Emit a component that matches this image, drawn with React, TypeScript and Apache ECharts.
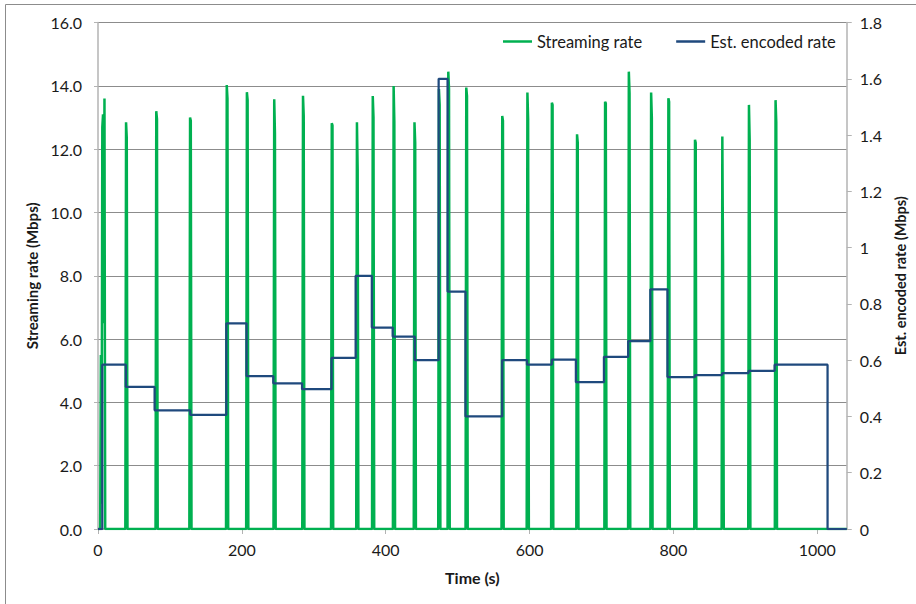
import React, { useEffect, useRef } from "react";
import * as echarts from "echarts";

// Streaming rate samples (time in s, rate in Mbps) – ON/OFF bursts
const streamTimes = [
  0, 3, 4, 5, 6, 7, 8, 9, 10,
  38, 39, 40, 41,
  80, 81, 82, 83,
  127, 128, 129, 130,
  178, 179, 180, 181,
  206, 207, 208, 209,
  244, 245, 246, 247,
  284, 285, 286, 287,
  324, 325, 326, 327,
  359, 360, 361, 362,
  381, 382, 383, 384,
  410, 411, 412, 413,
  439, 440, 441, 442,
  473, 474, 475, 476,
  486, 487, 488, 489,
  511, 512, 513, 514,
  561, 562, 563, 564,
  596, 597, 598, 599,
  630, 631, 632, 633,
  665, 666, 667, 668,
  704, 705, 706, 707,
  737, 738, 739, 740,
  768, 769, 770, 771,
  792, 793, 794, 795,
  829, 830, 831, 832,
  867, 868, 869, 870,
  904, 905, 906, 907,
  941, 942, 943, 944,
  1041,
];
const streamRates = [
  0, 0, 5.5, 0.8, 12.7, 13.1, 6.5, 13.6, 0,
  0, 12.85, 12.35, 0,
  0, 13.2, 12.95, 0,
  0, 13.0, 12.9, 0,
  0, 14.03, 13.6, 0,
  0, 13.8, 13.55, 0,
  0, 13.58, 12.5, 0,
  0, 13.69, 13.05, 0,
  0, 12.82, 12.75, 0,
  0, 12.85, 11.35, 0,
  0, 13.68, 13.0, 0,
  0, 14.0, 12.85, 0,
  0, 12.85, 12.2, 0,
  0, 13.9, 13.4, 0,
  0, 14.45, 13.9, 0,
  0, 13.95, 13.68, 0,
  0, 13.05, 12.9, 0,
  0, 13.79, 12.95, 0,
  0, 13.47, 13.4, 0,
  0, 12.47, 12.2, 0,
  0, 13.5, 13.45, 0,
  0, 14.45, 13.77, 0,
  0, 13.79, 12.98, 0,
  0, 13.61, 13.5, 0,
  0, 12.3, 12.2, 0,
  0, 12.4, 8.4, 0,
  0, 13.4, 12.29, 0,
  0, 13.55, 12.85, 0,
  0,
];

// Estimated encoded rate (Mbps), each value holds until the next change time
const encodedTimes = [
  0, 6, 38.7, 78.7, 128.3, 178.4, 206.5, 243.7, 283.7, 324.7, 358.2, 380.7,
  409.7, 440.5, 473.6, 486, 510.9, 561.9, 596.4, 630.9, 664.4, 703.4, 737.1,
  767.9, 791.7, 830, 867.6, 904.4, 940.7, 1014.3, 1041,
];
const encodedRates = [
  0, 0.584, 0.505, 0.422, 0.406, 0.731, 0.543, 0.518, 0.497, 0.608, 0.9, 0.716,
  0.684, 0.6, 1.6, 0.844, 0.4, 0.6, 0.584, 0.602, 0.522, 0.612, 0.668,
  0.852, 0.54, 0.547, 0.554, 0.5625, 0.584, 0, 0,
];

const xTickStep = 200;
const leftMax = 16;
const leftStep = 2;
const rightMax = 1.8;
const rightStep = 0.2;

const FONT = "Lato, 'Open Sans', sans-serif";
const GREEN = "#00b050";
const BLUE = "#1f497d";
const INK = "#1a1a1a";

export default function App() {
  const ref = useRef<HTMLDivElement>(null);

  useEffect(() => {
    if (!ref.current) return;
    const chart = echarts.init(ref.current, undefined, { renderer: "svg" });

    const streamData = streamTimes.map((t, i) => [t, streamRates[i]]);
    const encodedData = encodedTimes.map((t, i) => [t, encodedRates[i]]);

    chart.setOption({
      animation: false,
      backgroundColor: "#ffffff",
      textStyle: { fontFamily: FONT },
      grid: { left: 98, right: 63, top: 22.6, bottom: 75, containLabel: false },
      graphic: [
        {
          // chart frame (runs past the right and bottom edges of the canvas)
          type: "rect",
          shape: { x: 5.5, y: 4.5, width: 930, height: 620 },
          style: { fill: "none", stroke: "#8c8c8c", lineWidth: 1 },
          silent: true,
          z: -10,
        },
      ],
      legend: {
        left: 498,
        top: 28,
        icon: "rect",
        itemWidth: 29,
        itemHeight: 2.5,
        itemGap: 34,
        textStyle: { fontFamily: FONT, fontSize: 16.5, color: INK },
        data: ["Streaming rate", "Est. encoded rate"],
      },
      xAxis: {
        type: "value",
        min: 0,
        max: 1041,
        interval: xTickStep,
        name: "Time (s)",
        nameLocation: "middle",
        nameGap: 40,
        nameTextStyle: { fontFamily: FONT, fontSize: 16, fontWeight: "bold", color: INK },
        axisLine: { show: true, onZero: false, lineStyle: { color: "#b3b3b3", width: 1.5 } },
        axisTick: { show: true, inside: false, length: 5, lineStyle: { color: "#b3b3b3" } },
        axisLabel: {
          fontFamily: FONT,
          fontSize: 16,
          color: INK,
          margin: 12,
          showMaxLabel: false,
          formatter: (v: number) => String(v),
        },
        splitLine: { show: false },
      },
      yAxis: [
        {
          type: "value",
          min: 0,
          max: leftMax,
          interval: leftStep,
          name: "Streaming rate (Mbps)",
          nameLocation: "middle",
          nameGap: 55,
          nameTextStyle: { fontFamily: FONT, fontSize: 15, fontWeight: "bold", color: INK },
          axisLine: { show: true, lineStyle: { color: "#b3b3b3", width: 1.5 } },
          axisTick: { show: true, inside: false, length: 4, lineStyle: { color: "#b3b3b3" } },
          axisLabel: {
            fontFamily: FONT,
            fontSize: 16,
            color: INK,
            margin: 16,
            formatter: (v: number) => v.toFixed(1),
          },
          splitLine: { show: true, lineStyle: { color: "#8c8c8c", width: 1 } },
        },
        {
          type: "value",
          position: "right",
          min: 0,
          max: rightMax,
          interval: rightStep,
          name: "Est. encoded rate (Mbps)",
          nameLocation: "middle",
          nameGap: 40,
          nameTextStyle: { fontFamily: FONT, fontSize: 14.5, fontWeight: "bold", color: INK },
          axisLine: { show: true, lineStyle: { color: "#b3b3b3", width: 1.5 } },
          axisTick: { show: true, inside: false, length: 5, lineStyle: { color: "#b3b3b3" } },
          axisLabel: {
            fontFamily: FONT,
            fontSize: 16,
            color: INK,
            margin: 13,
            formatter: (v: number) => String(Number(v.toFixed(1))),
          },
          splitLine: { show: false },
        },
      ],
      series: [
        {
          name: "Streaming rate",
          type: "line",
          yAxisIndex: 0,
          data: streamData,
          symbol: "none",
          lineStyle: { color: GREEN, width: 2.5 },
          itemStyle: { color: GREEN },
          z: 2,
        },
        {
          name: "Est. encoded rate",
          type: "line",
          yAxisIndex: 1,
          step: "end",
          data: encodedData,
          symbol: "none",
          lineStyle: { color: BLUE, width: 2.25 },
          itemStyle: { color: BLUE },
          z: 3,
        },
      ],
    });

    return () => chart.dispose();
  }, []);

  return (
    <div
      ref={ref}
      style={{ position: "fixed", left: 0, top: 0, width: 916, height: 604 }}
    />
  );
}
